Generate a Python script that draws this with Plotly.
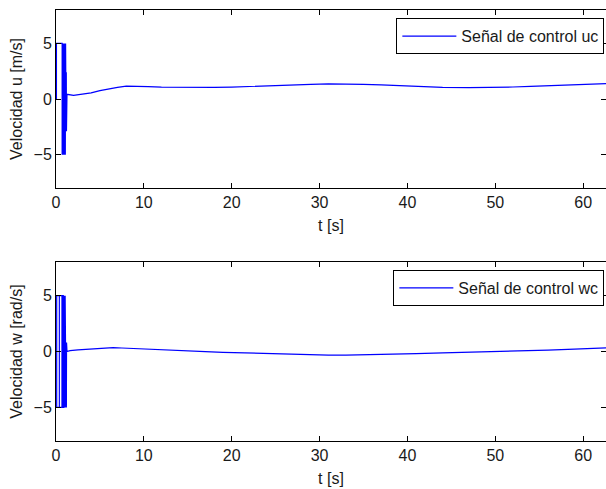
import plotly.graph_objects as go

# ---- data: control signal uc (top) ----
t_uc_start = [0.0, 0.05, 0.05, 0.70]
uc_start = [0.0, 0.0, 5.0, 5.0]
t_uc_band = [0.70, 0.73, 0.76, 0.79, 0.82, 0.85, 0.88, 0.91, 0.94, 0.97, 1.00, 1.03, 1.06, 1.09, 1.12]
uc_band = [-5, 5, -5, 5, -5, 5, -5, 5, -5, 5, -5, 5, -5, 5, -5]
t_uc_tail = [1.13, 1.15, 1.17, 1.19, 1.21]
uc_tail = [2.4, -2.9, 2.4, -2.9, 2.4]
t_uc = [1.25, 2.0, 3.0, 4.0, 5.0, 6.0, 7.0, 8.0, 9.5, 10.5, 12.0, 15.0, 18.0, 20.0, 21.5, 23.0,
        26.0, 29.0, 31.0, 33.0, 35.0, 37.0, 39.0, 41.0, 44.0, 47.0, 50.0, 52.0, 54.0, 56.0,
        58.0, 60.0, 62.8]
uc = [0.42, 0.32, 0.42, 0.55, 0.75, 0.92, 1.05, 1.15, 1.17, 1.12, 1.06, 1.03, 1.04, 1.07, 1.12, 1.16,
      1.24, 1.32, 1.36, 1.36, 1.32, 1.27, 1.20, 1.12, 1.05, 1.02, 1.03, 1.08, 1.14, 1.21,
      1.28, 1.34, 1.38]

# ---- data: control signal wc (bottom) ----
t_wc_start = [0.0, 0.08, 0.08, 0.76, 0.76, 0.08, 0.08, 0.38, 0.38, 0.38, 0.68, 0.68, 0.83]
wc_start = [5.0, 5.0, -5.0, -5.0, 5.0, 5.0, -5.0, -5.0, 5.0, -5.0, -5.0, 5.0, 5.0]
t_wc_band = [0.83, 0.86, 0.89, 0.92, 0.95, 0.98, 1.01, 1.04, 1.07, 1.10, 1.14]
wc_band = [-5, 5, -5, 5, -5, 5, -5, 5, -5, 5, -5]
t_wc_tail = [1.16, 1.18, 1.20]
wc_tail = [0.8, -5.0, 0.8]
t_wc = [1.25, 1.6, 2.5, 4.0, 5.5, 6.5, 7.5, 9.0, 11.0, 13.0, 15.0, 17.0, 19.0, 22.0, 25.0, 28.0,
        31.0, 33.0, 35.0, 38.0, 41.0, 44.0, 47.0, 50.0, 53.0, 56.0, 59.0, 62.8]
wc = [0.0, 0.08, 0.15, 0.24, 0.32, 0.36, 0.32, 0.26, 0.18, 0.12, 0.05, 0.0, -0.07, -0.14, -0.20, -0.27,
      -0.31, -0.31, -0.29, -0.24, -0.19, -0.12, -0.07, -0.02, 0.05, 0.13, 0.21, 0.33]

x_ticks = [0, 10, 20, 30, 40, 50, 60]
y_ticks = [-5, 0, 5]

t_u_all = t_uc_start + t_uc_band + t_uc_tail + t_uc
u_all = uc_start + uc_band + uc_tail + uc
t_w_all = t_wc_start + t_wc_band + t_wc_tail + t_wc
w_all = wc_start + wc_band + wc_tail + wc

BLUE = "#0000FF"
FONT = "Liberation Sans, Arial, sans-serif"
FS = 16

fig = go.Figure()
fig.add_trace(go.Scatter(x=t_u_all, y=u_all, mode="lines", name="Señal de control uc",
                         line=dict(color=BLUE, width=1.2), xaxis="x", yaxis="y", legend="legend"))
fig.add_trace(go.Scatter(x=t_w_all, y=w_all, mode="lines", name="Señal de control wc",
                         line=dict(color=BLUE, width=1.2), xaxis="x2", yaxis="y2", legend="legend2"))

ax_common = dict(showline=True, linecolor="black", linewidth=1, mirror="ticks",
                 ticks="inside", ticklen=5, tickcolor="black", showgrid=False, zeroline=False,
                 tickfont=dict(family=FONT, size=FS, color="#1a1a1a"))

fig.update_layout(
    width=606, height=489,
    margin=dict(l=56, r=0, t=10, b=48),
    plot_bgcolor="white", paper_bgcolor="white",
    font=dict(family=FONT, size=FS, color="#1a1a1a"),
    showlegend=True,
    xaxis=dict(domain=[0, 1], anchor="y", range=[0, 62.6], tickvals=x_ticks,
               title=dict(text="t [s]", standoff=9, font=dict(size=FS)), **ax_common),
    yaxis=dict(domain=[0.587, 1], anchor="x", range=[-8, 8], tickvals=y_ticks,
               title=dict(text="Velocidad u [m/s]", standoff=6, font=dict(size=FS)), **ax_common),
    xaxis2=dict(domain=[0, 1], anchor="y2", range=[0, 62.6], tickvals=x_ticks,
                title=dict(text="t [s]", standoff=9, font=dict(size=FS)), **ax_common),
    yaxis2=dict(domain=[0, 0.415], anchor="x2", range=[-8, 8], tickvals=y_ticks,
                title=dict(text="Velocidad w [rad/s]", standoff=6, font=dict(size=FS)), **ax_common),
    legend=dict(x=0.997, y=0.981, xanchor="right", yanchor="top", bgcolor="white",
                bordercolor="black", borderwidth=1, itemwidth=54,
                font=dict(family=FONT, size=FS, color="#1a1a1a")),
    legend2=dict(x=0.997, y=0.397, xanchor="right", yanchor="top", bgcolor="white",
                 bordercolor="black", borderwidth=1, itemwidth=54,
                 font=dict(family=FONT, size=FS, color="#1a1a1a")),
)

fig.write_html("out.html")
